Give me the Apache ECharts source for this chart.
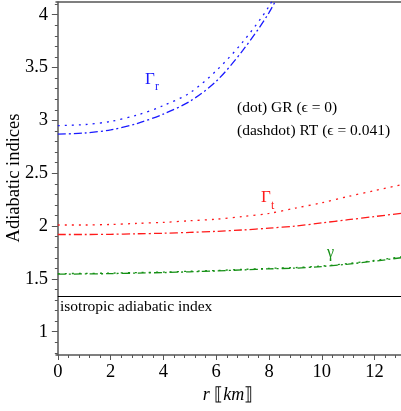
<!DOCTYPE html>
<html><head><meta charset="utf-8">
<script src="https://cdn.jsdelivr.net/npm/echarts@6/dist/echarts.min.js"></script>
<style>html,body{margin:0;padding:0;background:#fff}#c{width:401px;height:411px}</style>
</head><body><div id="c"></div>
<script>
// ---- data ----
const rKm = [0,1,2,3,4,5,6,7,8,9,10,11,12,13];
const gammaR_GR = [2.95,2.96,2.99,3.05,3.14,3.26,3.47,3.74,4.08,4.55];
const gammaR_RT = [2.87,2.88,2.91,2.97,3.06,3.18,3.37,3.66,4.02,4.50];
const gammaT_GR = [2.01,2.01,2.015,2.025,2.035,2.05,2.065,2.09,2.12,2.17,2.22,2.28,2.335,2.39];
const gammaT_RT = [1.92,1.92,1.922,1.927,1.932,1.94,1.95,1.963,1.98,2.0,2.03,2.06,2.09,2.12];
const gamma_GR = [1.55,1.552,1.555,1.56,1.565,1.572,1.58,1.59,1.60,1.607,1.622,1.645,1.675,1.71];
const gamma_RT = [1.545,1.547,1.55,1.555,1.56,1.567,1.575,1.585,1.595,1.602,1.617,1.64,1.668,1.70];
const isoIndex = [4/3, 4/3];
const isoR = [0, 13];
const xTickLabels = [0,2,4,6,8,10,12];
const yTickLabels = [1,1.5,2,2.5,3,3.5,4];

// ---- derived ----
const xMin = -0.07, xMax = 13, yMin = 0.78, yMax = 4.12;
const xMinor = [];
for (let k = 1; k <= 32; k++) { const v = Math.round(k*0.4*10)/10; if (Math.abs(v/2 - Math.round(v/2)) > 1e-6) xMinor.push(v); }
const yMinor = [];
for (let k = 8; k <= 41; k++) { const v = k/10; if (k % 5 !== 0) yMinor.push(v); }
const pairs = (arr) => arr.map((v,i) => [rKm[i], v]);

const FONT = '"Liberation Serif","Times New Roman",serif';
const axisColor = '#555';
const dot = {type:[2,5], width:1.3};
const dashdot = {type:[8,3,2,3], width:1.3};
const BLUE = '#1a1aff', RED = '#ff1a1a', GREEN = '#159015';

function line(name, arr, color, ls) {
  return {name, type:'line', data:pairs(arr), showSymbol:false, smooth:0.3,
    lineStyle:Object.assign({color}, ls), itemStyle:{color}, silent:true, clip:true};
}
function txt(x, y, text, color, size, align) {
  return {type:'text', x, y, silent:true, style:{text, fill:color, font:size+'px '+FONT,
    align:align||'left', verticalAlign:'middle', textAlign:align||'left', textVerticalAlign:'middle'}};
}

const chart = echarts.init(document.getElementById('c'), null, {renderer:'canvas'});
chart.setOption({
  animation:false,
  backgroundColor:'#fff',
  grid:{left:56, right:0, top:2, bottom:56},
  xAxis:[
    {type:'value', min:xMin, max:xMax, position:'bottom',
     axisLine:{show:true, lineStyle:{color:axisColor, width:1.5}},
     axisTick:{show:true, customValues:xTickLabels, length:5, lineStyle:{color:axisColor}},
     axisLabel:{customValues:xTickLabels, margin:8, fontFamily:FONT, fontSize:18.5, color:'#000'},
     splitLine:{show:false}},
    {type:'value', min:xMin, max:xMax, position:'bottom',
     axisLine:{show:false},
     axisTick:{show:true, customValues:xMinor, length:3, lineStyle:{color:axisColor}},
     axisLabel:{show:false}, splitLine:{show:false}},
    {type:'value', min:xMin, max:xMax, position:'top',
     axisLine:{show:true, lineStyle:{color:axisColor, width:1.5}},
     axisTick:{show:false}, axisLabel:{show:false}, splitLine:{show:false}}
  ],
  yAxis:[
    {type:'value', min:yMin, max:yMax, position:'left',
     axisLine:{show:true, lineStyle:{color:axisColor, width:1.5}},
     axisTick:{show:true, customValues:yTickLabels, length:6, lineStyle:{color:axisColor}},
     axisLabel:{customValues:yTickLabels, margin:8, fontFamily:FONT, fontSize:18.5, color:'#000'},
     splitLine:{show:false}},
    {type:'value', min:yMin, max:yMax, position:'left',
     axisLine:{show:false},
     axisTick:{show:true, customValues:yMinor, length:3, lineStyle:{color:axisColor}},
     axisLabel:{show:false}, splitLine:{show:false}}
  ],
  series:[
    line('Γr GR', gammaR_GR, BLUE, dot),
    line('Γr RT', gammaR_RT, BLUE, dashdot),
    line('Γt GR', gammaT_GR, RED, dot),
    line('Γt RT', gammaT_RT, RED, dashdot),
    line('γ GR', gamma_GR, GREEN, dot),
    line('γ RT', gamma_RT, GREEN, dashdot),
    {name:'isotropic', type:'line', data:isoR.map((r,i)=>[r, isoIndex[i]]), showSymbol:false,
     lineStyle:{color:'#000', width:1.2}, silent:true}
  ],
  graphic:[
    txt(145, 80, 'Γ', BLUE, 17),
    txt(155, 87, 'r', BLUE, 12),
    txt(261, 198, 'Γ', RED, 17),
    txt(271, 206, 't', RED, 12),
    txt(327, 253, 'γ', GREEN, 16),
    txt(237, 108, '(dot) GR (ϵ = 0)', '#000', 15.5),
    txt(237, 131, '(dashdot) RT (ϵ = 0.041)', '#000', 15.5),
    txt(60, 307, 'isotropic adiabatic index', '#000', 15.5),
    Object.assign(txt(14, 178, 'Adiabatic indices', '#000', 18.5, 'center'), {rotation:Math.PI/2}),
    {type:'text', x:228, y:395, silent:true, style:{text:'{i|r} ⟦{i|km}⟧', fill:'#000', font:'18px '+FONT, align:'center', verticalAlign:'middle', textAlign:'center', textVerticalAlign:'middle',
      rich:{i:{fontStyle:'italic', fontFamily:FONT, fontSize:18}}}}
  ]
});
</script>
</body></html>
